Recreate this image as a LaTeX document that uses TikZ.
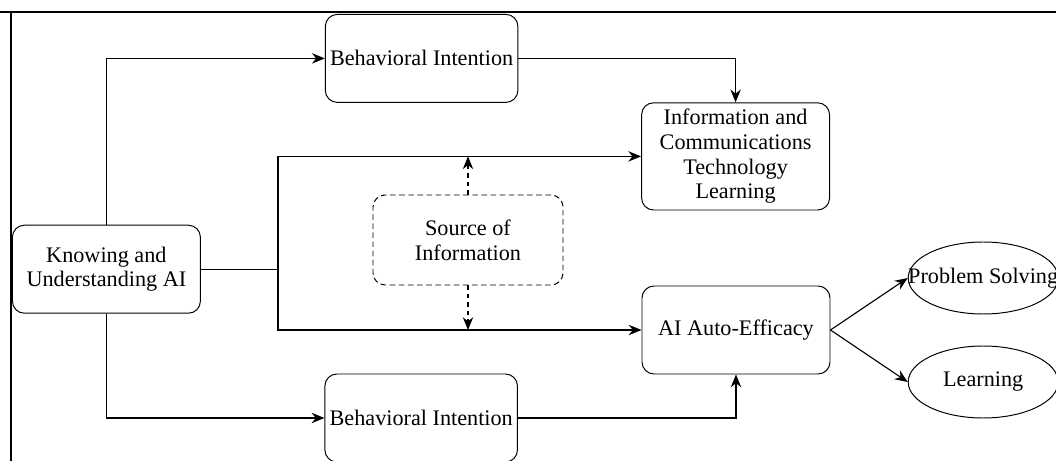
\documentclass[tikz,border=0pt]{standalone}
\usepackage{fontspec}
\setmainfont{Liberation Serif}
\usetikzlibrary{arrows.meta,shapes.geometric}

\tikzset{
  >={Stealth[length=3.2mm,width=2.6mm]},
  box/.style = {draw, rounded corners=0.3cm, align=center, minimum width=4.7cm,
    minimum height=2.2cm, line width=0.7pt, font=\fontsize{15.8}{17.5}\selectfont},
  oval/.style = {draw, ellipse, minimum width=3.75cm, minimum height=1.8cm,
    inner sep=0pt, line width=0.7pt, font=\fontsize{15.8}{17.5}\selectfont},
  link/.style = {line width=0.8pt}
}

\begin{document}
\begin{tikzpicture}
        \useasboundingbox (0, 0) rectangle (26.4, -11.525);

        % frame
        \draw [line width=1.3pt] (0, -0.3) -- (26.4, -0.3);
        \draw [line width=1.3pt] (0.275, -0.3) -- (0.275, -11.525);

        \node [box] (knowing) at (2.66, -6.73) {Knowing and\\Understanding AI};
        \node [box] (bitop) at (10.54, -1.46) {Behavioral Intention};
        \node [box] (bibot) at (10.53, -10.45) {Behavioral Intention};
        \node [box, minimum height=2.68cm] (ict) at (18.39, -3.91)
          {Information and\\Communications\\Technology\\Learning};
        \node [box, dash pattern=on 4pt off 2.5pt, minimum width=4.75cm, minimum height=2.25cm]
          (source) at (11.7, -6.0) {Source of\\Information};
        \node [box] (efficacy) at (18.4, -8.25) {AI Auto-Efficacy};
        \node [oval] (problem) at (24.58, -6.95) {\makebox[0pt]{Problem Solving}};
        \node [oval] (learning) at (24.58, -9.55) {\makebox[0pt]{Learning}};

        \coordinate (bus) at (6.95, -6.73);

        \draw [link, ->] (knowing.north) |- (bitop.west);
        \draw [link, ->] (knowing.south) |- (bibot.west);
        \draw [link, ->] (bitop.east) -| (ict.north);
        \draw [link, ->] (bibot.east) -| (efficacy.south);

        \draw [link, ->] (knowing.east) -- (bus) |- (ict.west);
        \draw [link, ->] (bus) |- (efficacy.west);

        \draw [link, dashed, ->] (source.north) -- (source.north |- ict.west);
        \draw [link, dashed, ->] (source.south) -- (source.south |- efficacy.west);

        \foreach \target in {problem, learning} {
          \draw [link, ->] (efficacy.east) -- (\target.west);
        }
\end{tikzpicture}
\end{document}
